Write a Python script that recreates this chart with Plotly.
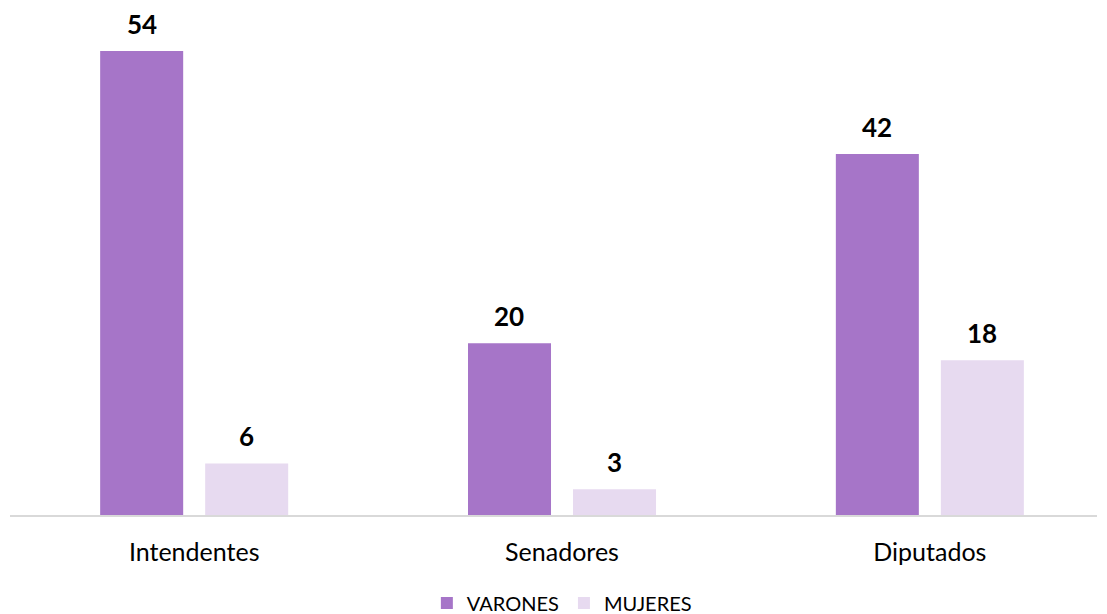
import plotly.graph_objects as go

categories = ["Intendentes", "Senadores", "Diputados"]
varones = [54, 20, 42]
mujeres = [6, 3, 18]
series_names = ["VARONES", "MUJERES"]

C_V = "#A675C8"
C_M = "#E7DAF0"
FONT = "Lato, Carlito, Calibri, sans-serif"

fig = go.Figure()
fig.add_trace(go.Bar(x=categories, y=varones, name=series_names[0],
                     marker=dict(color=C_V, line=dict(width=0))))
fig.add_trace(go.Bar(x=categories, y=mujeres, name=series_names[1],
                     marker=dict(color=C_M, line=dict(width=0))))

# value labels
for si, vals in enumerate([varones, mujeres]):
    off = -0.1428 if si == 0 else 0.1428
    for i, v in enumerate(vals):
        fig.add_annotation(x=i + off, y=v, xref="x", yref="y", text=f"<b>{v}</b>",
                           showarrow=False, yanchor="bottom", yshift=9,
                           font=dict(family=FONT, size=26, color="#000000"))

fig.update_layout(
    width=1107, height=614,
    margin=dict(l=2, r=18, t=0, b=107, autoexpand=False),
    paper_bgcolor="white", plot_bgcolor="white",
    barmode="group", bargap=0.429, bargroupgap=0.2095,
    font=dict(family=FONT, size=22, color="#000000"),
    showlegend=True,
    legend=dict(orientation="h", x=0.3835, xanchor="left", y=-0.1736, yanchor="middle",
                font=dict(family=FONT, size=20, color="#000000"),
                itemwidth=30, tracegroupgap=0),
    xaxis=dict(type="category", range=[-0.5007, 2.4544], showline=True,
               linecolor="#D9D9D9", linewidth=2, ticks="outside", ticklen=14,
               tickcolor="rgba(0,0,0,0)", showgrid=False, automargin=False,
               tickfont=dict(family=FONT, size=25, color="#000000")),
    yaxis=dict(range=[0, 59.0], visible=False, showgrid=False, zeroline=False,
               automargin=False),
)

fig.write_html("out.html")
